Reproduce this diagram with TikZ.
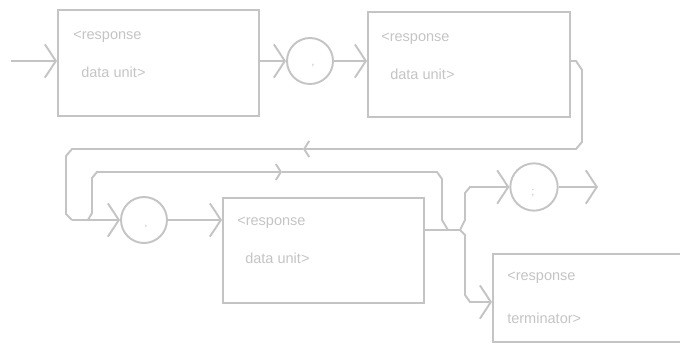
\documentclass[tikz,border=0pt]{standalone}
\usepackage{fontspec}
\setmainfont{Liberation Sans}
\usetikzlibrary{arrows.meta,fit}
\definecolor{lncol}{RGB}{196,196,196}
\definecolor{txcol}{RGB}{196,196,196}
\begin{document}
\begin{tikzpicture}[x=0.75pt,y=-0.75pt,
  ln/.style={draw=lncol, line width=1.45pt},
  bigtip/.style={-{Straight Barb[length=8.25pt,width=25pt]}},
  smalltip/.style={-{Straight Barb[length=3.75pt,width=12pt]}},
  box/.style={draw=lncol, line width=1.45pt, inner sep=0pt},
  circ/.style={draw=lncol, line width=1.45pt, circle, inner sep=0pt},
  lbl/.style={anchor=west, text=txcol, inner sep=0pt, font=\fontsize{10.9}{13}\selectfont},
  punct/.style={text=txcol, inner sep=0pt, font=\fontsize{8.5}{10}\selectfont}]
\useasboundingbox (0,0) rectangle (680,343);
\clip (0,0) rectangle (680,343);
% boxes
\node[box, fit={(58,10) (259,116)}] (b1) {};
\node[box, fit={(368,12) (570,117)}] (b2) {};
\node[box, fit={(223,198) (424,303)}] (b3) {};
\node[box, fit={(493,254) (720,342)}] (b4) {};
% labels
\node[lbl] (t1a) at (73,37) {<response};
\node[lbl] (t1b) at (81,72) {data unit>};
\node[lbl] (t2a) at (381,39) {<response};
\node[lbl] (t2b) at (390,74) {data unit>};
\node[lbl] (t3a) at (237,223) {<response};
\node[lbl] (t3b) at (245,258) {data unit>};
\node[lbl] (t4a) at (507,278) {<response};
\node[lbl] (t4b) at (507,318) {terminator>};
% circles
\node[circ, minimum size=34.5pt] (c1) at (310,61) {};
\node[circ, minimum size=34.5pt] (c2) at (144,220) {};
\node[circ, minimum size=35.5pt] (c3) at (534,187) {};
\node[punct] (p1) at (313,66) {,};
\node[punct] (p2) at (146,227) {,};
\node[punct] (p3) at (533,193) {;};
% coordinates
\coordinate (start) at (11,61);
\coordinate (la) at (303,149);
\coordinate (j1) at (72,220);
\coordinate (j2) at (88,220);
\coordinate (lb) at (282,172);
\coordinate (j3) at (460,230);
\coordinate (y4) at (0,302);
\coordinate (end) at (598,187);
% row 1
\draw[ln,bigtip] (start) -- (b1.west |- c1.center);
\draw[ln,bigtip] (b1.east |- c1.center) -- (c1.west);
\draw[ln,bigtip] (c1.east) -- (b2.west |- c1.center);
% outer loop back
\draw[ln,smalltip] (b2.east |- c1.center) -- (576,61) -- (582,70) -- (582,142) -- (576,149) -- (la);
\draw[ln] (la) -- (72,149) -- (66,156) -- (66,214) -- (j1);
% row 2
\draw[ln,bigtip] (j1) -- (c2.west);
\draw[ln,bigtip] (c2.east) -- (b3.west |- c2.center);
% inner bypass loop
\draw[ln,smalltip] (j2) -- (92,213) -- (92,178) -- (97,172) -- (lb);
\draw[ln] (lb) -- (437,172) -- (442,179) -- (442,220) -- (448,230);
% exit of box 3
\draw[ln] (b3.east |- j3) -- (j3);
\draw[ln,bigtip] (j3) -- (465,220) -- (465,193) -- (470,187) -- (c3.west);
\draw[ln,bigtip] (j3) -- (465,235) -- (465,295) -- (470,302) -- (b4.west |- y4);
\draw[ln,bigtip] (c3.east) -- (end);
\end{tikzpicture}
\end{document}
